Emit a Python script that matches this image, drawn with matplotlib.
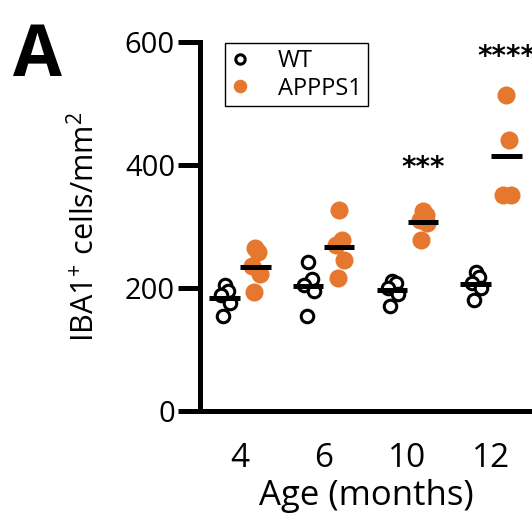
import matplotlib
matplotlib.use("Agg")
import matplotlib.pyplot as plt
import numpy as np

plt.rcParams['font.family'] = ['Open Sans', 'DejaVu Sans']
plt.rcParams['mathtext.fontset'] = 'custom'
plt.rcParams['mathtext.rm'] = 'Open Sans'
plt.rcParams['mathtext.it'] = 'Open Sans'

# data
ages = ['4', '6', '10', '12']
wt = [[205, 195, 188, 175, 155],
      [243, 215, 205, 195, 155],
      [212, 208, 200, 190, 170],
      [226, 218, 208, 200, 180]]
appps1 = [[265, 258, 235, 222, 194],
          [327, 278, 270, 245, 216],
          [325, 318, 310, 305, 278],
          [514, 441, 351, 351]]
stars = ['', '', '***', '****']
star_y = [0, 0, 395, 575]

orange = '#E6772E'
jit = [0.0, 0.045, -0.045, 0.07, -0.02]  # small spread inside a group
off = 0.185

fig = plt.figure(figsize=(5.32, 5.30), dpi=100)
ax = fig.add_axes([200/532, 119/530, 332/532, 369/530])

for i in range(len(ages)):
    xw = [i - off + jit[k] for k in range(len(wt[i]))]
    xa = [i + off + jit[k] * 0.8 for k in range(len(appps1[i]))]
    ax.plot(xw, wt[i], 'o', ms=9, mfc='white', mec='black', mew=2.2,
            ls='none', clip_on=False, zorder=3, label='WT' if i == 0 else None)
    ax.plot(xa, appps1[i], 'o', ms=13, mfc=orange, mec=orange, mew=0,
            ls='none', clip_on=False, zorder=2, label='APPPS1' if i == 0 else None)
    ax.plot([i - off - 0.18, i - off + 0.18], [np.mean(wt[i])] * 2, color='black',
            lw=3.6, solid_capstyle='butt', zorder=4, clip_on=False)
    ax.plot([i + off - 0.18, i + off + 0.18], [np.mean(appps1[i])] * 2, color='black',
            lw=3.6, solid_capstyle='butt', zorder=4, clip_on=False)
    if stars[i]:
        ax.text(i + off, star_y[i], stars[i], ha='center', va='center',
                fontsize=20, fontweight='bold', family='DejaVu Sans', clip_on=False)

ax.set_xlim(-0.478, 3.49)
ax.set_ylim(0, 600)
ax.set_yticks([0, 200, 400, 600])
ax.set_xticks(range(len(ages)))
ax.set_xticklabels(ages)
ax.tick_params(axis='x', length=0, pad=22, labelsize=24)
ax.tick_params(axis='y', length=16, width=3.6, pad=2, labelsize=21)
for s in ['top', 'right']:
    ax.spines[s].set_visible(False)
for s in ['left', 'bottom']:
    ax.spines[s].set_linewidth(3.6)

ax.set_xlabel('Age (months)', fontsize=25, labelpad=3)
ax.set_ylabel(r'$\mathregular{IBA1^{+}\ cells/mm^{2}}$', fontsize=22, labelpad=17)

leg = ax.legend(loc='upper left', bbox_to_anchor=(25/332, 0.997), borderaxespad=0,
                fancybox=False, edgecolor='black', framealpha=1, fontsize=17,
                handlelength=0.8, handletextpad=1.2, borderpad=0.25, labelspacing=0.15,
                markerscale=0.75)
leg.get_frame().set_linewidth(1.0)

fig.text(13/532, 1 - 76/530, 'A', fontsize=51, fontweight='bold', ha='left', va='baseline')

fig.savefig('out.png', dpi=100)
